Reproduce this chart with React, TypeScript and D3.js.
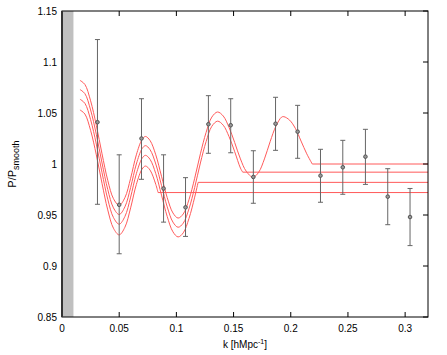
import React from 'react'
import * as d3 from 'd3'

// measured band powers with error bars
const kData = [0.031, 0.05, 0.0695, 0.0888, 0.108, 0.128, 0.1475, 0.1673, 0.1867, 0.206, 0.226, 0.2455, 0.2653, 0.2848, 0.3043]
const pData = [1.041, 0.96, 1.025, 0.976, 0.9575, 1.039, 1.038, 0.9873, 1.0395, 1.0317, 0.9886, 0.9968, 1.0072, 0.968, 0.948]
const pHigh = [1.122, 1.009, 1.064, 1.009, 0.9866, 1.067, 1.064, 1.013, 1.0654, 1.0575, 1.0144, 1.0232, 1.034, 0.9954, 0.976]
const pLow = [0.9605, 0.912, 0.985, 0.943, 0.929, 1.0105, 1.011, 0.9615, 1.0134, 1.0056, 0.9625, 0.9703, 0.98, 0.9405, 0.92]

// model curves (wiggles, then flat to the end)
const kA = [0.0157, 0.02, 0.025, 0.03, 0.035, 0.04, 0.045, 0.05, 0.055, 0.06, 0.065, 0.07, 0.073, 0.077, 0.082, 0.087, 0.092, 0.097, 0.1015, 0.106, 0.111, 0.116, 0.121, 0.126, 0.131, 0.136, 0.141, 0.146, 0.151, 0.156, 0.161, 0.167, 0.172, 0.177, 0.182, 0.187, 0.192, 0.194, 0.199, 0.204, 0.209, 0.214, 0.2188, 0.32]
const vA = [1.082, 1.078, 1.062, 1.038, 1.01, 0.984, 0.966, 0.9595, 0.967, 0.986, 1.009, 1.024, 1.027, 1.023, 1.009, 0.988, 0.967, 0.952, 0.947, 0.951, 0.965, 0.986, 1.01, 1.031, 1.046, 1.051, 1.047, 1.036, 1.021, 1.005, 0.993, 0.987, 0.992, 1.005, 1.022, 1.037, 1.046, 1.0464, 1.043, 1.035, 1.0225, 1.01, 1.0, 1.0]

const kB = [0.0157, 0.02, 0.025, 0.03, 0.035, 0.04, 0.045, 0.05, 0.055, 0.06, 0.065, 0.07, 0.073, 0.077, 0.082, 0.087, 0.092, 0.097, 0.1015, 0.106, 0.111, 0.116, 0.121, 0.126, 0.131, 0.136, 0.141, 0.146, 0.151, 0.156, 0.158, 0.32]
const vB = [1.073, 1.069, 1.053, 1.029, 1.001, 0.975, 0.957, 0.9505, 0.958, 0.977, 1.0, 1.015, 1.018, 1.014, 1.0, 0.979, 0.958, 0.943, 0.938, 0.942, 0.956, 0.977, 1.001, 1.022, 1.037, 1.042, 1.038, 1.027, 1.012, 0.996, 0.992, 0.992]

const kC = [0.0157, 0.02, 0.025, 0.03, 0.035, 0.04, 0.045, 0.05, 0.055, 0.06, 0.065, 0.07, 0.073, 0.077, 0.082, 0.087, 0.092, 0.097, 0.1015, 0.106, 0.111, 0.116, 0.119, 0.32]
const vC = [1.0635, 1.0595, 1.0435, 1.0195, 0.9915, 0.9655, 0.9475, 0.941, 0.9485, 0.9675, 0.9905, 1.0055, 1.0085, 1.0045, 0.9905, 0.9695, 0.9485, 0.9335, 0.9285, 0.9325, 0.9465, 0.9675, 0.982, 0.982]

const kD = [0.0157, 0.02, 0.025, 0.03, 0.035, 0.04, 0.045, 0.05, 0.055, 0.06, 0.065, 0.07, 0.073, 0.077, 0.082, 0.084, 0.32]
const vD = [1.053, 1.049, 1.033, 1.009, 0.981, 0.955, 0.937, 0.9305, 0.938, 0.957, 0.98, 0.995, 0.998, 0.994, 0.98, 0.972, 0.972]

const xTicks = [0, 0.05, 0.1, 0.15, 0.2, 0.25, 0.3]
const yTicks = [0.85, 0.9, 0.95, 1, 1.05, 1.1, 1.15]
const maskEdge = 0.01

const W = 447
const H = 355
const m = { left: 62, right: 19, top: 11, bottom: 38 }

export default function App() {
  const x = d3.scaleLinear().domain([0, 0.32]).range([m.left, W - m.right])
  const y = d3.scaleLinear().domain([0.85, 1.15]).range([H - m.bottom, m.top])
  const curves = [
    [kA, vA],
    [kB, vB],
    [kC, vC],
    [kD, vD],
  ]
  const wiggle = d3
    .line<[number, number]>()
    .x((d) => x(d[0]))
    .y((d) => y(d[1]))
    .curve(d3.curveCatmullRom)

  const x0 = x(0)
  const x1 = x(0.32)
  const y0 = y(0.85)
  const y1 = y(1.15)

  return (
    <svg width={W} height={H} style={{ position: 'absolute', left: 0, top: 0 }} fontFamily="'Liberation Sans', Arial, sans-serif" fontSize={10}>
      <rect x={0} y={0} width={W} height={H} fill="#fff" />
      <rect x={x0} y={y1} width={x(maskEdge) - x0} height={y0 - y1} fill="#c0c0c0" />

      {curves.map(([ks, vs], i) => {
        const pts = ks.map((k, j) => [k, vs[j]] as [number, number])
        const n = pts.length
        return (
          <g key={i} stroke="#ff5a5a" strokeWidth={1} fill="none">
            <path d={wiggle(pts.slice(0, n - 1)) || ''} />
            <line x1={x(pts[n - 2][0])} x2={x(pts[n - 1][0])} y1={y(pts[n - 1][1])} y2={y(pts[n - 1][1])} />
          </g>
        )
      })}

      {kData.map((k, i) => (
        <g key={i} stroke="#666" strokeWidth={1}>
          <line x1={x(k)} x2={x(k)} y1={y(pHigh[i])} y2={y(pLow[i])} />
          <line x1={x(k) - 2.5} x2={x(k) + 2.5} y1={y(pHigh[i])} y2={y(pHigh[i])} />
          <line x1={x(k) - 2.5} x2={x(k) + 2.5} y1={y(pLow[i])} y2={y(pLow[i])} />
          <circle cx={x(k)} cy={y(pData[i])} r={1.8} fill="#999" stroke="#555" />
        </g>
      ))}

      {xTicks.map((t) => (
        <g key={t}>
          <line x1={x(t)} x2={x(t)} y1={y0} y2={y0 - 5} stroke="#000" />
          <line x1={x(t)} x2={x(t)} y1={y1} y2={y1 + 5} stroke="#000" />
          <text x={x(t)} y={y0 + 15} textAnchor="middle" fill="#000">
            {t}
          </text>
        </g>
      ))}
      {yTicks.map((t) => (
        <g key={t}>
          <line x1={x1} x2={x1 - 5} y1={y(t)} y2={y(t)} stroke="#000" />
          <text x={x0 - 5} y={y(t) + 3.5} textAnchor="end" fill="#000">
            {t}
          </text>
        </g>
      ))}

      <rect x={x0} y={y1} width={x1 - x0} height={y0 - y1} fill="none" stroke="#000" strokeWidth={1} />
      <line x1={x0} x2={x0} y1={y1} y2={y0} stroke="#333" strokeWidth={2} />

      <text x={(x0 + x1) / 2} y={H - 7} textAnchor="middle" fill="#000">
        k [hMpc<tspan dy={-4} fontSize={7}>-1</tspan>
        <tspan dy={4}>]</tspan>
      </text>
      <text transform={`translate(16,${(y0 + y1) / 2}) rotate(-90)`} textAnchor="middle" fill="#000" fontSize={11}>
        P/P<tspan dy={3} fontSize={9}>smooth</tspan>
      </text>
    </svg>
  )
}
